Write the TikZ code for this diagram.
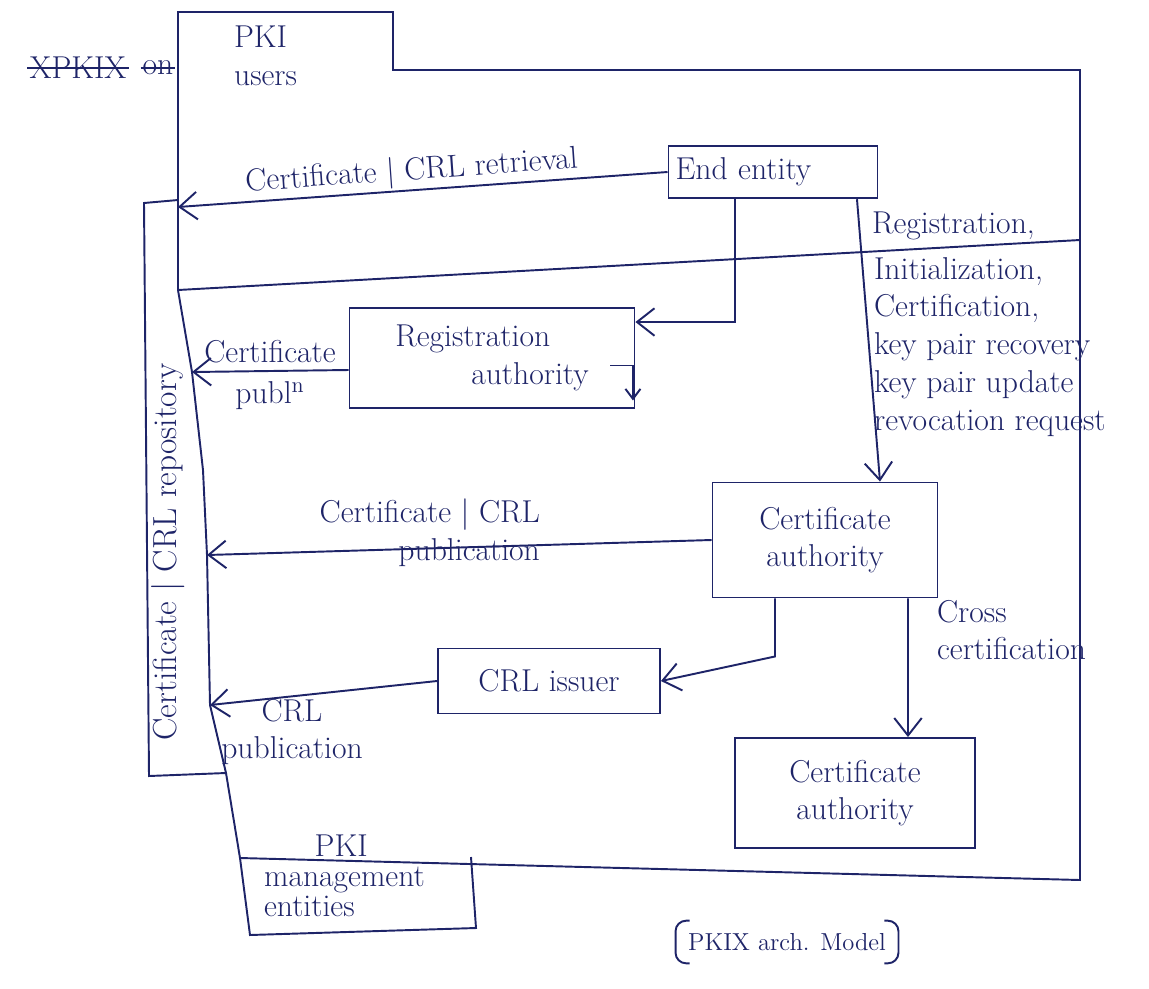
\documentclass[tikz,border=0pt]{standalone}
\usepackage{xcolor}
\usepackage{tikz}
\usetikzlibrary{arrows.meta, positioning}
\definecolor{ink}{RGB}{30,36,104}

\begin{document}
\begin{tikzpicture}[x=0.02cm, y=-0.02cm, font=\fontsize{18}{21.5}\selectfont]
    % Styles
    \tikzstyle{entity} = [rectangle, draw=ink, line width=1.1pt, text=ink, align=center, inner sep=4pt]
    \tikzstyle{frame} = [draw=ink, line width=1.1pt]
    \tikzstyle{arrow} = [draw=ink, line width=1.1pt, -{Straight Barb[length=3.5mm, width=5.5mm]}]
    \tikzstyle{note} = [text=ink, align=left, inner sep=1pt]

    \useasboundingbox (0,0) rectangle (1149,988);

    % Frames
    \draw [frame] (178,12) -- (393,12) -- (393,70) -- (1080,70) -- (1080,880)
        -- (240,858) -- (226,773) -- (210,705) -- (207,555) -- (203,470)
        -- (192,372) -- (178,290) -- cycle;
    \draw [frame] (178,290) -- (1080,240);
    \draw [frame] (178,200) -- (144,203) -- (149,776) -- (226,773);
    \draw [frame] (240,858) -- (250,935) -- (476,928) -- (471,857);

    % Repository edge points
    \coordinate (rp1) at (178,207);
    \coordinate (rp2) at (192,372);
    \coordinate (rp3) at (207,555);
    \coordinate (rp4) at (210,705);

    % Nodes
    \node (ee) [entity, align=left, text width=3.9cm, minimum height=1.05cm] at (773,172) {End entity};
    \node (ra) [entity, align=left, minimum width=5.7cm, minimum height=2cm] at (492,358) {Registration\\\hspace*{2.4em}authority};
    \node (ca1) [entity, minimum width=4.5cm, minimum height=2.3cm] at (825,540) {Certificate\\authority};
    \node (crl) [entity, minimum width=4.44cm, minimum height=1.3cm] at (549,681) {CRL issuer};
    \node (ca2) [entity, minimum width=4.8cm, minimum height=2.2cm] at (855,793) {Certificate\\authority};

    \node (rep) [note, rotate=90, font=\fontsize{19}{23}\selectfont] at (168,552) {Certificate | CRL repository};
    \node (users) [note, anchor=west] at (232,56) {PKI\\users};
    \node (mgmt) [note, anchor=north west, font=\fontsize{18}{17}\selectfont] at (262,833) {\hspace*{1.6em}PKI\\management\\entities};
    \node (xp) [note] at (78,68) {XPKIX};
    \node (on) [note] at (158,68) {on};
    \draw [frame] (xp.west) -- (xp.east);
    \draw [frame] (on.west) -- (on.east);

    % Arrows
    \draw [arrow] (ee.west) -- node[note, above, pos=0.52, sloped] {Certificate | CRL retrieval} (rp1);
    \draw [arrow] ([xshift=-0.76cm]ee.south) |- ([yshift=0.72cm]ra.east);
    \draw [arrow] ([xshift=1.68cm]ee.south) -- ([xshift=1.1cm]ca1.north);
    \draw [arrow] ([yshift=-0.24cm]ra.west) -- (rp2);
    \draw [arrow, -{Straight Barb[length=2mm, width=3mm]}] ([xshift=-0.5cm, yshift=-0.15cm]ra.east) -- ([xshift=-0.05cm, yshift=-0.15cm]ra.east) -- ([xshift=-0.05cm, yshift=-0.85cm]ra.east);
    \draw [arrow] (ca1.west) -- (rp3);
    \draw [arrow] ([xshift=-1cm]ca1.south) -- ++(0,58) -- (crl.east);
    \draw [arrow] (crl.west) -- (rp4);
    \draw [arrow] ([xshift=1.66cm]ca1.south) -- ([xshift=1.06cm]ca2.north);

    % Labels
    \node (lpub) [note, align=center] at (270,375) {Certificate\\[2pt]publ\textsuperscript{n}};
    \node (lreg) [note, anchor=west] at (870,226) {Registration,};
    \node (lops) [note, anchor=north west] at (872,255) {Initialization,\\Certification,\\key pair recovery\\key pair update\\revocation request};
    \node (lcap) [note, align=right, anchor=east] at (542,533) {Certificate | CRL\\publication};
    \node (lcrl) [note, align=center] at (292,732) {CRL\\publication};
    \node (lcross) [note, anchor=west] at (935,630) {Cross\\certification};

    % Caption
    \node (cap) [note, inner xsep=7pt, inner ysep=7pt, font=\fontsize{14}{17}\selectfont] at (787,942) {PKIX arch. Model};
    \draw [frame, rounded corners=6pt] ([xshift=8pt]cap.north west) -- (cap.north west) -- (cap.south west) -- ([xshift=8pt]cap.south west);
    \draw [frame, rounded corners=6pt] ([xshift=-8pt]cap.north east) -- (cap.north east) -- (cap.south east) -- ([xshift=-8pt]cap.south east);
\end{tikzpicture}
\end{document}
